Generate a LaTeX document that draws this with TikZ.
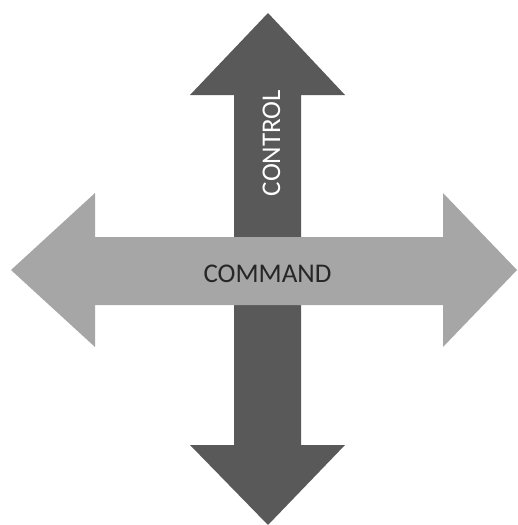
\documentclass[tikz,border=0pt]{standalone}
\usepackage{fontspec}
\setmainfont{Carlito}
\definecolor{darkarrow}{HTML}{595959}
\definecolor{lightarrow}{HTML}{A6A6A6}
\begin{document}
\begin{tikzpicture}[x=1pt,y=-1pt,
  arrowshape/.style={draw=none},
  lbl/.style={font=\fontsize{27}{27}\selectfont, inner sep=0pt}]
\useasboundingbox (0,0) rectangle (518,525);
% vertical arrow
\fill[darkarrow,arrowshape] (268,13) -- (345,95) -- (301,95) -- (301,445) -- (345,445)
  -- (268,525) -- (190,445) -- (234,445) -- (234,95) -- (190,95) -- cycle;
% horizontal arrow
\fill[lightarrow,arrowshape] (11,270) -- (95,193) -- (95,237) -- (443,237) -- (443,193)
  -- (517,270) -- (443,347) -- (443,305) -- (95,305) -- (95,347) -- cycle;
\node[lbl, text=white, rotate=90, anchor=base] (control) at (280,143) {CONTROL};
\node[lbl, text=black!85, anchor=base] (command) at (267.5,282) {COMMAND};
\end{tikzpicture}
\end{document}
